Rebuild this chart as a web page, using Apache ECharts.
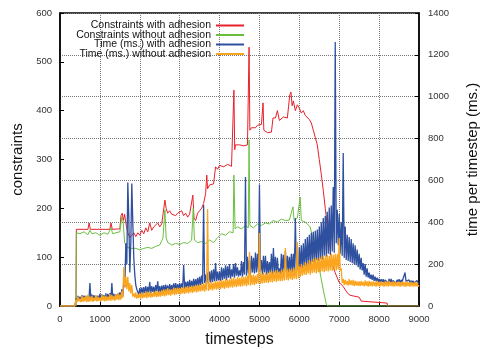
<!DOCTYPE html>
<html>
<head>
<meta charset="utf-8">
<script src="https://cdn.jsdelivr.net/npm/echarts@6/dist/echarts.min.js"></script>
<style>
  html, body { margin: 0; padding: 0; background: #fff; }
  #chart { width: 482px; height: 349px; }
</style>
</head>
<body>
<div id="chart"></div>
<script>
// constraint counts, [timestep, constraints]
const constraintsWithAdhesion = [
  [0, 0], [400, 0], [410, 157], [700, 157], [730, 170], [760, 157], [1250, 157], [1280, 170], [1310, 157],
  [1500, 158], [1530, 185], [1560, 190], [1590, 175], [1620, 188], [1660, 165], [1700, 150], [1750, 140],
  [1800, 145], [1850, 150], [1900, 142], [1950, 150], [2000, 145], [2050, 155], [2100, 148], [2150, 160],
  [2200, 152], [2250, 170], [2300, 155], [2350, 162], [2400, 158], [2450, 170], [2500, 162], [2550, 168],
  [2600, 165], [2630, 217], [2660, 200], [2700, 190], [2750, 195], [2800, 188], [2850, 192], [2900, 185],
  [2950, 190], [3000, 188], [3050, 195], [3100, 185], [3150, 190], [3200, 182], [3250, 188], [3300, 185],
  [3330, 227], [3360, 180], [3400, 175], [3450, 190], [3500, 195], [3550, 200], [3600, 210], [3650, 230],
  [3680, 268], [3700, 240], [3750, 248], [3800, 245], [3850, 250], [3900, 285], [3950, 280], [4000, 288],
  [4100, 285], [4200, 290], [4300, 286], [4350, 290], [4360, 442], [4380, 320], [4400, 330], [4450, 332],
  [4500, 330], [4600, 328], [4700, 330], [4740, 530], [4760, 360], [4800, 365], [4850, 368], [4900, 365],
  [4950, 370], [5000, 367], [5050, 372], [5090, 416], [5110, 360], [5200, 355], [5300, 356], [5340, 385],
  [5400, 385], [5450, 400], [5500, 380], [5600, 387], [5700, 385], [5760, 432], [5790, 438], [5820, 410],
  [5850, 420], [5900, 400], [5950, 412], [6000, 405], [6050, 395], [6100, 400], [6150, 390], [6200, 392],
  [6250, 382], [6300, 375], [6350, 360], [6400, 345], [6450, 330], [6500, 300], [6550, 270], [6600, 237],
  [6650, 200], [6700, 165], [6750, 130], [6800, 100], [6850, 80], [6900, 68], [6950, 58], [7000, 48],
  [7100, 40], [7200, 27], [7270, 22], [7300, 20], [7500, 18], [7550, 10], [7600, 6], [8200, 6], [8210, 0],
  [9000, 0]
];
const constraintsWithoutAdhesion = [
  [0, 0], [400, 0], [410, 150], [500, 148], [600, 152], [700, 146], [750, 155], [800, 148], [900, 150],
  [1000, 145], [1100, 150], [1200, 147], [1280, 160], [1320, 148], [1400, 150], [1500, 152], [1550, 182],
  [1580, 175], [1620, 130], [1680, 121], [1750, 118], [1800, 115], [1900, 118], [2000, 115], [2100, 118],
  [2200, 120], [2300, 118], [2400, 122], [2500, 125], [2580, 139], [2630, 197], [2660, 140], [2700, 130],
  [2800, 125], [2900, 128], [3000, 126], [3100, 130], [3200, 128], [3300, 135], [3340, 200], [3370, 135],
  [3450, 130], [3550, 132], [3650, 128], [3750, 135], [3850, 130], [3950, 140], [4050, 148], [4150, 145],
  [4250, 152], [4340, 150], [4360, 268], [4390, 158], [4450, 162], [4550, 158], [4650, 165], [4720, 160],
  [4740, 340], [4760, 165], [4850, 160], [4950, 168], [5050, 165], [5150, 170], [5250, 168], [5340, 175],
  [5450, 172], [5550, 178], [5650, 175], [5750, 176], [5840, 203], [5870, 175], [5950, 180], [6020, 223],
  [6050, 175], [6150, 172], [6270, 162], [6350, 135], [6430, 100], [6520, 68], [6600, 33], [6670, 6],
  [6700, 0], [9000, 0]
];

// time per timestep (ms.), sampled every 25 timesteps from 0 to 9000 (one row = 500 timesteps)
const timeWithAdhesion = [
  0, 0, 0, 0, 0, 0, 0, 0, 0, 0, 0, 0, 0, 0, 0, 0, 35, 22, 48, 25,
  45, 25, 52, 28, 50, 30, 48, 26, 45, 28, 110, 30, 55, 28, 52, 30, 48, 27, 50, 30,
  58, 30, 55, 32, 52, 30, 60, 33, 58, 35, 62, 32, 110, 35, 58, 33, 55, 35, 60, 36,
  65, 38, 80, 45, 120, 90, 300, 200, 590, 420, 160, 300, 585, 400, 230, 150, 100, 80, 85, 55,
  85, 55, 88, 58, 90, 62, 95, 60, 92, 65, 115, 60, 95, 68, 92, 62, 100, 70, 118, 65,
  95, 65, 98, 70, 100, 68, 102, 72, 98, 70, 105, 75, 100, 72, 108, 78, 110, 75, 105, 78,
  110, 80, 108, 85, 196, 82, 115, 88, 118, 85, 125, 90, 120, 88, 130, 92, 128, 95, 135, 95,
  140, 100, 145, 105, 482, 110, 150, 105, 160, 110, 165, 112, 170, 115, 175, 118, 205, 120, 165, 122,
  165, 120, 185, 125, 180, 130, 195, 125, 190, 135, 200, 130, 175, 140, 200, 135, 205, 145, 185, 140,
  170, 145, 215, 140, 210, 150, 616, 145, 235, 155, 220, 150, 240, 160, 230, 155, 255, 160, 250, 165,
  580, 165, 220, 150, 240, 160, 240, 150, 215, 155, 210, 160, 250, 150, 277, 160, 235, 155, 230, 160,
  180, 150, 250, 160, 245, 155, 263, 165, 240, 160, 235, 165, 250, 160, 250, 170, 420, 175, 210, 165,
  280, 180, 290, 170, 300, 190, 320, 185, 330, 200, 340, 195, 350, 210, 355, 205, 360, 220, 365, 215,
  380, 225, 400, 220, 420, 240, 430, 235, 450, 250, 470, 245, 480, 260, 569, 255, 1261, 300, 460, 290,
  440, 250, 400, 240, 731, 230, 380, 220, 340, 215, 330, 210, 320, 205, 300, 200, 290, 195, 270, 185,
  250, 175, 230, 170, 205, 150, 200, 140, 180, 135, 160, 130, 150, 125, 150, 120, 140, 118, 135, 115,
  130, 112, 128, 115, 128, 110, 125, 118, 125, 108, 130, 112, 130, 110, 122, 120, 125, 108, 125, 115,
  128, 108, 125, 115, 122, 110, 160, 118, 120, 112, 125, 108, 122, 110, 120, 110, 118, 115, 122, 108,
  110
];
const timeWithoutAdhesion = [
  0, 0, 0, 0, 0, 0, 0, 0, 0, 0, 0, 0, 0, 0, 0, 0, 30, 20, 45, 22,
  35, 18, 50, 20, 42, 22, 48, 18, 55, 20, 45, 22, 48, 20, 40, 25, 52, 22, 45, 24,
  40, 22, 55, 25, 48, 22, 50, 24, 45, 26, 58, 25, 52, 28, 48, 25, 55, 30, 62, 28,
  55, 30, 70, 40, 186, 90, 140, 80, 139, 70, 110, 60, 100, 45, 60, 40, 65, 35, 55, 38,
  60, 35, 66, 38, 58, 40, 70, 38, 65, 42, 70, 40, 62, 42, 68, 45, 72, 42, 70, 45,
  70, 45, 75, 48, 80, 46, 78, 50, 85, 52, 80, 50, 78, 55, 88, 52, 85, 55, 88, 58,
  85, 55, 90, 60, 88, 58, 92, 62, 95, 60, 92, 65, 98, 62, 95, 68, 100, 65, 102, 68,
  100, 70, 105, 72, 110, 68, 112, 75, 463, 72, 108, 78, 115, 75, 112, 80, 120, 78, 118, 82,
  120, 80, 125, 85, 122, 82, 130, 88, 125, 85, 128, 90, 132, 88, 135, 92, 130, 90, 138, 95,
  135, 92, 140, 95, 138, 98, 142, 95, 145, 100, 258, 98, 148, 102, 150, 100, 145, 105, 152, 108,
  349, 105, 150, 108, 160, 110, 155, 112, 158, 110, 162, 115, 170, 112, 165, 118, 168, 115, 172, 120,
  165, 118, 170, 120, 175, 122, 277, 125, 170, 122, 178, 128, 175, 125, 180, 130, 185, 128, 306, 132,
  190, 140, 200, 145, 195, 150, 210, 148, 205, 155, 220, 150, 215, 158, 225, 160, 230, 155, 228, 162,
  230, 160, 235, 165, 240, 162, 238, 168, 245, 165, 240, 170, 248, 168, 245, 172, 250, 170, 248, 175,
  325, 170, 180, 110, 130, 100, 125, 102, 120, 98, 128, 100, 122, 98, 125, 95, 120, 98, 118, 96,
  118, 95, 120, 98, 115, 94, 122, 96, 118, 92, 120, 95, 116, 94, 118, 96, 115, 92, 120, 95,
  115, 94, 118, 96, 114, 92, 118, 95, 116, 93, 120, 96, 115, 94, 118, 92, 116, 95, 114, 94,
  116, 92, 114, 95, 118, 93, 115, 92, 117, 95, 114, 92, 116, 94, 112, 93, 115, 94, 113, 92,
  100
];
const sampleStep = 25;

const seriesNames = [
  'Constraints with adhesion',
  'Constraints without adhesion',
  'Time (ms.) with adhesion',
  'Time (ms.) without adhesion'
];
const colors = ['#e8202a', '#6abf40', '#2f4f9f', '#fba51e'];

const font = '"Liberation Sans", Arial, Helvetica, sans-serif';

function sampled(values) {
  return values.map((v, i) => [i * sampleStep, v]);
}

function lineSeries(i, data, yAxisIndex, width) {
  return {
    name: seriesNames[i],
    type: 'line',
    yAxisIndex: yAxisIndex,
    data: data,
    showSymbol: false,
    symbol: 'none',
    sampling: null,
    lineStyle: { width: width, color: colors[i] },
    itemStyle: { color: colors[i] },
    z: 2 + i
  };
}

const plainLabel = (v) => String(v);

const chart = echarts.init(document.getElementById('chart'));
chart.setOption({
  animation: false,
  color: colors,
  grid: {
    left: 60, right: 63, top: 13, bottom: 43,
    outerBoundsMode: 'none',
    show: true, borderColor: '#000', borderWidth: 1.5, backgroundColor: 'transparent'
  },
  legend: {
    orient: 'vertical',
    right: 233,
    top: 15,
    align: 'right',
    itemGap: -1.5,
    itemWidth: 28,
    itemHeight: 2,
    icon: 'rect',
    data: seriesNames,
    textStyle: { fontFamily: font, fontSize: 10.5, color: '#111', lineHeight: 9, padding: [0, 0, 0, 0] }
  },
  xAxis: {
    type: 'value',
    min: 0, max: 9000, interval: 1000,
    name: 'timesteps',
    nameLocation: 'middle',
    nameGap: 26,
    nameTextStyle: { fontFamily: font, fontSize: 16, color: '#111' },
    axisLine: { show: true, lineStyle: { color: '#000', width: 1.5 } },
    axisTick: { show: true, inside: true, length: 4, lineStyle: { color: '#000' } },
    axisLabel: { fontFamily: font, fontSize: 9.5, color: '#333', margin: 8, formatter: plainLabel },
    splitLine: { show: true, lineStyle: { type: [1, 1], color: '#777', width: 1 } }
  },
  yAxis: [
    {
      type: 'value',
      position: 'left',
      min: 0, max: 600, interval: 100,
      name: 'constraints',
      nameLocation: 'middle',
      nameGap: 33,
      nameRotate: 90,
      nameTextStyle: { fontFamily: font, fontSize: 15, color: '#111' },
      axisLine: { show: true, lineStyle: { color: '#000', width: 1.5 } },
      axisTick: { show: true, inside: true, length: 4, lineStyle: { color: '#000' } },
      axisLabel: { fontFamily: font, fontSize: 9.5, color: '#333', margin: 8, formatter: plainLabel },
      splitLine: { show: false }
    },
    {
      type: 'value',
      position: 'right',
      min: 0, max: 1400, interval: 200,
      name: 'time per timestep (ms.)',
      nameLocation: 'middle',
      nameGap: 46,
      nameRotate: 90,
      nameTextStyle: { fontFamily: font, fontSize: 15, color: '#111' },
      axisLine: { show: true, lineStyle: { color: '#000', width: 1.5 } },
      axisTick: { show: true, inside: true, length: 4, lineStyle: { color: '#000' } },
      axisLabel: { fontFamily: font, fontSize: 9.5, color: '#333', margin: 9, formatter: plainLabel },
      splitLine: { show: true, lineStyle: { type: [1, 1], color: '#777', width: 1 } }
    }
  ],
  series: [
    lineSeries(0, constraintsWithAdhesion, 0, 1),
    lineSeries(1, constraintsWithoutAdhesion, 0, 1),
    lineSeries(2, sampled(timeWithAdhesion), 1, 1.3),
    lineSeries(3, sampled(timeWithoutAdhesion), 1, 1.3)
  ]
});
</script>
</body>
</html>
